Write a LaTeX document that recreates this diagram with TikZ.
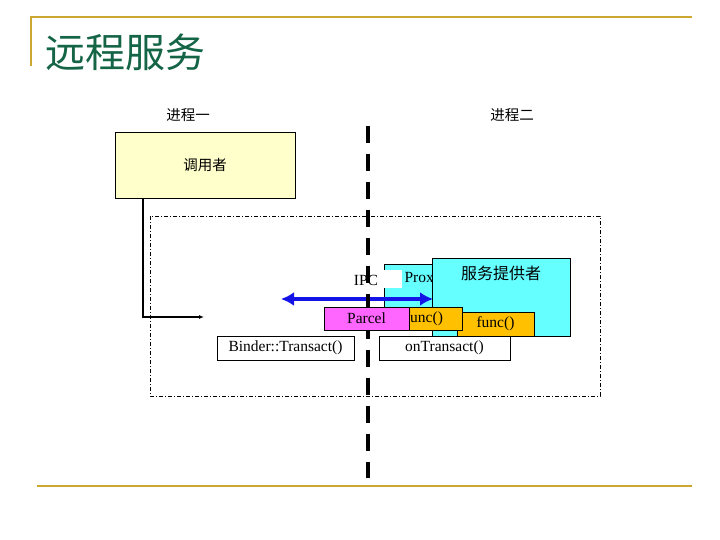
\documentclass[tikz,border=0pt]{standalone}
\usepackage{fontspec}
\setmainfont{Liberation Serif}
\newfontfamily\cjk{Noto Sans CJK SC}
\usetikzlibrary{arrows.meta}
\definecolor{gold}{RGB}{205,168,48}
\definecolor{titlegreen}{RGB}{20,100,70}
\definecolor{calleryellow}{RGB}{255,255,204}
\definecolor{boxcyan}{RGB}{102,255,255}
\definecolor{parcelpink}{RGB}{255,102,255}
\definecolor{funcorange}{RGB}{255,192,0}
\definecolor{ipcblue}{RGB}{20,20,230}
\tikzset{
  box/.style={draw,inner sep=0pt,font=\fontsize{15.5}{15.5}\selectfont},
  cjkbox/.style={box,font=\cjk\fontsize{14.5}{14.5}\selectfont},
  divider/.style={line width=3.5pt,dash pattern=on 17pt off 11pt},
  region/.style={line width=0.6pt,dash pattern=on 4pt off 2pt on 1pt off 2pt}
}
\begin{document}
\begin{tikzpicture}[x=1pt,y=-1pt]
    \useasboundingbox (0,0) rectangle (720,540);
    % title and frame lines
    \draw[gold,line width=2.5pt] (30,17)--(692,17);
    \draw[gold,line width=2.5pt] (31,17)--(31,66);
    \draw[gold,line width=2pt] (37,486)--(692,486);
    \node[anchor=west,text=titlegreen,font=\cjk\fontsize{40}{40}\selectfont] (title) at (42,52) {远程服务};
    \node[font=\cjk\fontsize{14.5}{14.5}\selectfont] (proc1) at (188,115) {进程一};
    \node[font=\cjk\fontsize{14.5}{14.5}\selectfont] (proc2) at (512,115) {进程二};
    % process 2 region
    \draw[region] (150,216) rectangle (600,396);
    % caller
    \node[cjkbox,fill=calleryellow,minimum width=180pt,minimum height=66pt] (caller) at (205,165) {调用者};
    \coordinate (callend) at (204,317);
    \draw[line width=1.5pt,-{Latex[length=5pt,width=4pt]}] (caller.south -| 143,0) |- (callend);
    % proxy
    \node[box,fill=boxcyan,minimum width=96pt,minimum height=56pt] (proxy) at (432,292) {};
    \node[anchor=west,font=\fontsize{15.5}{15.5}\selectfont] (proxytext) at (401,279) {Proxy};
    \fill[white] (384,270) rectangle (402,288);
    % ipc arrow
    \coordinate (ipcL) at (281,299);
    \coordinate (ipcR) at (433,299);
    \draw[ipcblue,line width=3.5pt,{Latex[length=13pt,width=14pt]}-{Latex[length=13pt,width=14pt]}] (ipcL) -- (ipcR);
    \draw[divider] (368,126)--(368,478);
    \node[font=\fontsize{15.5}{15.5}\selectfont] (ipc) at (366,280) {IPC};
    % service
    \node[cjkbox,fill=boxcyan,minimum width=138pt,minimum height=78pt] (service) at (501,297) {};
    \node[font=\cjk\fontsize{16}{16}\selectfont] (servicetext) at (501,273) {服务提供者};
    \node[box,fill=funcorange,minimum width=77pt,minimum height=24pt] (func2) at (495.5,324) {func()};
    \node[box,fill=funcorange,minimum width=76pt,minimum height=23pt] (func1) at (424,318.5) {func()};
    \node[box,fill=parcelpink,minimum width=85pt,minimum height=23pt] (parcel) at (366.5,318.5) {Parcel};
    % transact boxes
    \node[box,fill=white,minimum width=137pt,minimum height=24pt] (transact) at (285.5,348) {Binder::Transact()};
    \node[box,fill=white,minimum width=131pt,minimum height=24pt] (ontransact) at (444.5,348) {onTransact()};
\end{tikzpicture}
\end{document}
